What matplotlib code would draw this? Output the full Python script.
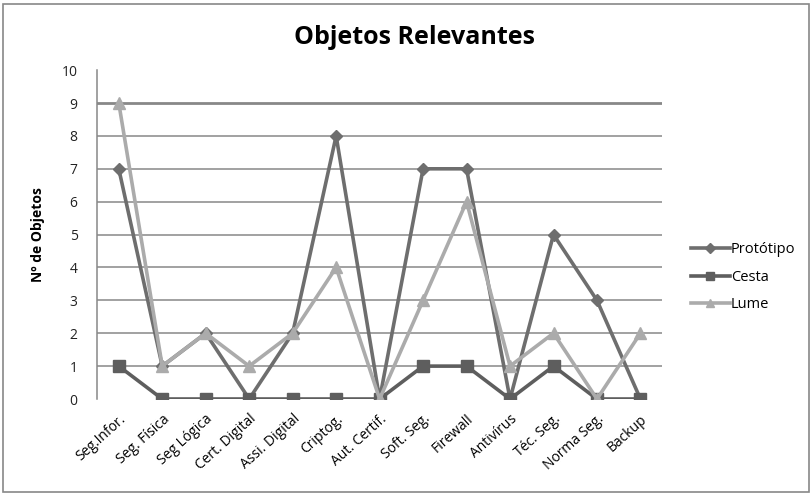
import numpy as np
import matplotlib.pyplot as plt

# categorias e valores
categorias = ['Seg.Infor.', 'Seg. Física', 'Seg Lógica', 'Cert. Digital', 'Assi. Digital',
              'Criptog.', 'Aut. Certif.', 'Soft. Seg.', 'Firewall', 'Antivírus',
              'Téc. Seg.', 'Norma Seg.', 'Backup']
prototipo = [7, 1, 2, 0, 2, 8, 0, 7, 7, 0, 5, 3, 0]
cesta = [1, 0, 0, 0, 0, 0, 0, 1, 1, 0, 1, 0, 0]
lume = [9, 1, 2, 1, 2, 4, 0, 3, 6, 1, 2, 0, 2]
yticks = list(range(0, 11))

plt.rcParams['font.family'] = ['Open Sans', 'DejaVu Sans']

fig = plt.figure(figsize=(8.12, 4.94), dpi=100)
ax = fig.add_axes([0.1195, 0.1923, 0.8155 - 0.1195, 0.858 - 0.1923])

x = np.arange(len(categorias))
ax.plot(x, prototipo, color='#6e6e6e', lw=2.6, marker='D', ms=6.5, label='Protótipo', zorder=3)
ax.plot(x, cesta, color='#5e5e5e', lw=2.6, marker='s', ms=8.5, label='Cesta', zorder=4)
ax.plot(x, lume, color='#ababab', lw=2.6, marker='^', ms=8, label='Lume', zorder=5)

ax.set_xlim(-0.5, len(categorias) - 0.5)
ax.set_ylim(0, 10)
ax.set_yticks(yticks)
ax.set_xticks(x)
ax.set_xticklabels(categorias, rotation=42, ha='right', rotation_mode='anchor', fontsize=10)
ax.tick_params(axis='y', length=0, pad=14, labelsize=10, labelcolor='#222222')
ax.tick_params(axis='x', length=0, pad=9)

for v in yticks[1:-1]:
    ax.axhline(v, color='#888888', lw=2 if v == 9 else 1.1, zorder=1)

for s in ['top', 'right', 'bottom']:
    ax.spines[s].set_visible(False)
ax.spines['left'].set_color('#888888')
ax.spines['left'].set_linewidth(1.1)

ax.set_ylabel('Nº de Objetos', fontsize=10, fontweight='bold', labelpad=12)
fig.text(0.51, 0.925, 'Objetos Relevantes', ha='center', va='center', fontsize=18, fontweight='bold')

leg = ax.legend(loc='center left', bbox_to_anchor=(1.027, 0.37), frameon=False,
                fontsize=10.5, handlelength=2.7, handletextpad=0.05, labelspacing=0.85,
                markerscale=0.75)

# moldura do grafico
fig.patches.append(plt.Rectangle((0.004, 0.004), 0.992, 0.988, transform=fig.transFigure,
                                 fill=False, edgecolor='#888888', lw=1.2))

fig.savefig('out.png', dpi=100)
